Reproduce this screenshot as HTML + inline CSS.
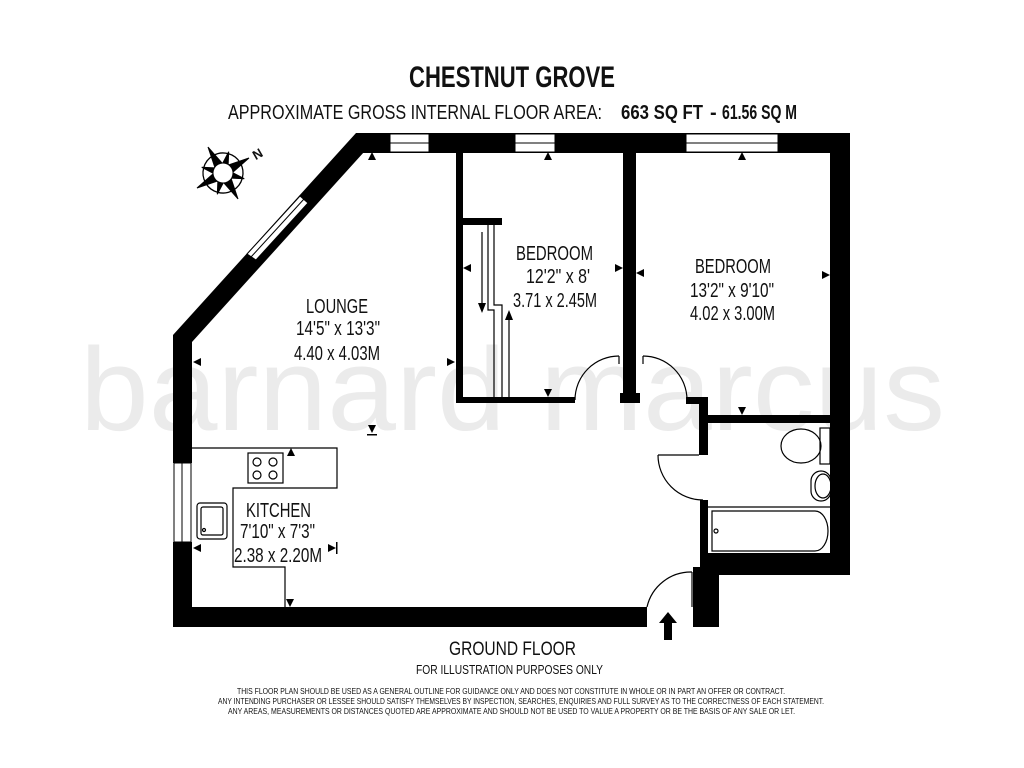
<!DOCTYPE html>
<html><head><meta charset="utf-8"><style>
html,body{margin:0;padding:0;background:#fff;}
svg{display:block;}
text{font-family:"Liberation Sans Narrow","Liberation Sans",sans-serif;fill:#111;}
</style></head><body>
<svg width="1024" height="768" viewBox="0 0 1024 768" xmlns="http://www.w3.org/2000/svg">
<rect width="1024" height="768" fill="#fff"/>
<text x="80" y="430" font-size="118" style="fill:#ebebeb;font-family:'Liberation Sans',sans-serif" textLength="865" lengthAdjust="spacingAndGlyphs">barnard marcus</text>

<text x="409" y="87" font-size="30" font-weight="bold" textLength="206" lengthAdjust="spacingAndGlyphs">CHESTNUT GROVE</text>
<text x="228" y="119" font-size="20" textLength="374" lengthAdjust="spacingAndGlyphs">APPROXIMATE GROSS INTERNAL FLOOR AREA:</text>
<text x="621" y="119" font-size="20" font-weight="bold" textLength="82" lengthAdjust="spacingAndGlyphs">663 SQ FT</text>
<text x="710" y="119" font-size="20" font-weight="bold">-</text>
<text x="722" y="119" font-size="20" font-weight="bold" textLength="75" lengthAdjust="spacingAndGlyphs">61.56 SQ M</text>

<g fill="#000" stroke="none">
<rect x="356" y="133" width="494" height="20"/>
<rect x="830" y="133" width="20" height="442"/>
<rect x="707" y="553" width="143" height="22"/>
<rect x="693" y="567" width="26" height="60"/>
<rect x="700" y="500" width="8" height="70"/>
<rect x="699" y="397" width="9" height="58"/>
<rect x="686" y="397" width="22" height="7"/>
<rect x="708" y="415" width="123" height="8"/>
<rect x="173" y="607" width="474" height="20"/>
<rect x="173" y="335" width="19" height="128"/>
<rect x="173" y="542" width="19" height="85"/>
<polygon points="173,335 356,133 364,152 192,342"/>
<rect x="456" y="152" width="7" height="251"/>
<rect x="456" y="397" width="119" height="6"/>
<rect x="463" y="218" width="39" height="7"/>
<rect x="623" y="152" width="13" height="251"/>
<rect x="620" y="393" width="20" height="10"/>
</g>

<g fill="#fff" stroke="#000" stroke-width="1">
<rect x="390" y="134" width="39" height="18"/>
<rect x="515" y="134" width="40" height="18"/>
<rect x="686" y="134" width="92" height="18"/>
<line x1="390" y1="143" x2="429" y2="143"/>
<line x1="515" y1="143" x2="555" y2="143"/>
<line x1="686" y1="143" x2="778" y2="143"/>
<polygon points="247,254 300,196 308,203 256,260"/>
<line x1="251" y1="257" x2="304" y2="199"/>
<rect x="174" y="463" width="17" height="79"/>
<line x1="182" y1="463" x2="182" y2="542"/>
</g>

<g stroke="#000" stroke-width="1.2" fill="none">
<polyline points="488,225 488,310 494,310 494,403"/>
<polyline points="494,225 494,305 502,305 502,403"/>
<line x1="482" y1="232" x2="482" y2="305"/>
<line x1="509" y1="397" x2="509" y2="318"/>
</g>
<polygon points="478,303 486,303 482,313" fill="#000"/>
<polygon points="505,320 513,320 509,310" fill="#000"/>

<g stroke="#000" stroke-width="1.2" fill="none">
<path d="M575,400 A44,44 0 0 1 619,356"/>
<line x1="619" y1="356" x2="619" y2="364"/>
<path d="M643,356 A44,44 0 0 1 687,400"/>
<line x1="643" y1="356" x2="643" y2="364"/>
<path d="M658,455 A45,45 0 0 0 703,500"/>
<line x1="658" y1="455" x2="699" y2="455"/>
<path d="M647,607 A45,45 0 0 1 692,572"/>
<line x1="692" y1="572" x2="692" y2="607"/>
</g>

<g stroke="#000" stroke-width="1.2" fill="none">
<polyline points="192,448 337,448 337,488 233,488 233,567 285,567 285,607"/>
<rect x="248" y="453" width="35" height="30"/>
<circle cx="257" cy="462" r="4"/><circle cx="273" cy="462" r="4"/>
<circle cx="257" cy="475" r="4"/><circle cx="273" cy="475" r="4"/>
<rect x="197" y="503" width="30" height="36" rx="3"/>
<rect x="201" y="507" width="22" height="28" rx="2"/>
<circle cx="204" cy="530" r="1.5"/>
<rect x="820" y="428" width="10" height="36"/>
<ellipse cx="801" cy="446" rx="20" ry="17"/>
<rect x="811" y="471" width="20" height="30" rx="10"/>
<ellipse cx="823" cy="486" rx="8" ry="12"/>
<line x1="708" y1="507" x2="831" y2="507"/>
<path d="M712,511 H815 A13,20 0 0 1 815,551 H712 Z"/>
<circle cx="716" cy="531" r="2"/>
</g>

<polygon points="668,612 677,623 672,623 672,640 664,640 664,623 659,623" fill="#000"/>

<g fill="#000">
<polygon points="372,152 368,160 376,160"/>
<polygon points="548,152 544,160 552,160"/>
<polygon points="742,152 738,160 746,160"/>
<polygon points="193,362 201,358 201,366"/>
<polygon points="455,362 447,358 447,366"/>
<polygon points="372,433 368,425 376,425"/><rect x="367" y="434" width="10" height="1.5"/>
<polygon points="463,268 471,264 471,272"/>
<polygon points="623,268 615,264 615,272"/>
<polygon points="636,273 644,269 644,277"/>
<polygon points="830,275 822,271 822,279"/>
<polygon points="548,397 544,389 552,389"/>
<polygon points="742,415 738,407 746,407"/>
<polygon points="291,448 287,456 295,456"/>
<polygon points="193,548 201,544 201,552"/>
<polygon points="336,548 328,544 328,552"/><rect x="336" y="542" width="1.5" height="12"/>
<polygon points="290,607 286,599 294,599"/>
</g>

<g transform="translate(223,173) rotate(-30)" stroke="#000" fill="none">
<circle r="20" stroke-width="1.3"/>
<polygon points="0,-30 5,-5 30,0 5,5 0,30 -5,5 -30,0 -5,-5" fill="#000"/>
<polygon points="0,-22 4,-4 22,0 4,4 0,22 -4,4 -22,0 -4,-4" fill="#000" transform="rotate(45)"/>
<circle r="10" fill="#fff" stroke-width="1"/>
</g>
<text x="252" y="158" font-size="13" font-weight="bold" transform="rotate(-30 258 152)">N</text>

<g font-size="20">
<text x="306" y="313" textLength="62" lengthAdjust="spacingAndGlyphs">LOUNGE</text>
<text x="296" y="335" textLength="84" lengthAdjust="spacingAndGlyphs">14'5" x 13'3"</text>
<text x="294" y="360" textLength="86" lengthAdjust="spacingAndGlyphs">4.40 x 4.03M</text>
<text x="516" y="260" textLength="77" lengthAdjust="spacingAndGlyphs">BEDROOM</text>
<text x="526" y="283" textLength="64" lengthAdjust="spacingAndGlyphs">12'2" x 8'</text>
<text x="513" y="307" textLength="84" lengthAdjust="spacingAndGlyphs">3.71 x 2.45M</text>
<text x="695" y="273" textLength="76" lengthAdjust="spacingAndGlyphs">BEDROOM</text>
<text x="690" y="297" textLength="84" lengthAdjust="spacingAndGlyphs">13'2" x 9'10"</text>
<text x="690" y="320" textLength="85" lengthAdjust="spacingAndGlyphs">4.02 x 3.00M</text>
<text x="246" y="517" textLength="65" lengthAdjust="spacingAndGlyphs">KITCHEN</text>
<text x="240" y="538" textLength="75" lengthAdjust="spacingAndGlyphs">7'10" x 7'3"</text>
<text x="234" y="562" textLength="88" lengthAdjust="spacingAndGlyphs">2.38 x 2.20M</text>
</g>

<text x="449" y="655" font-size="19" textLength="127" lengthAdjust="spacingAndGlyphs">GROUND FLOOR</text>
<text x="416" y="674" font-size="13" textLength="187" lengthAdjust="spacingAndGlyphs">FOR ILLUSTRATION PURPOSES ONLY</text>
<g font-size="8.5">
<text x="237" y="694" textLength="548" lengthAdjust="spacingAndGlyphs">THIS FLOOR PLAN SHOULD BE USED AS A GENERAL OUTLINE FOR GUIDANCE ONLY AND DOES NOT CONSTITUTE IN WHOLE OR IN PART AN OFFER OR CONTRACT.</text>
<text x="218" y="704" textLength="606" lengthAdjust="spacingAndGlyphs">ANY INTENDING PURCHASER OR LESSEE SHOULD SATISFY THEMSELVES BY INSPECTION, SEARCHES, ENQUIRIES AND FULL SURVEY AS TO THE CORRECTNESS OF EACH STATEMENT.</text>
<text x="228" y="714" textLength="567" lengthAdjust="spacingAndGlyphs">ANY AREAS, MEASUREMENTS OR DISTANCES QUOTED ARE APPROXIMATE AND SHOULD NOT BE USED TO VALUE A PROPERTY OR BE THE BASIS OF ANY SALE OR LET.</text>
</g>
</svg>
</body></html>
